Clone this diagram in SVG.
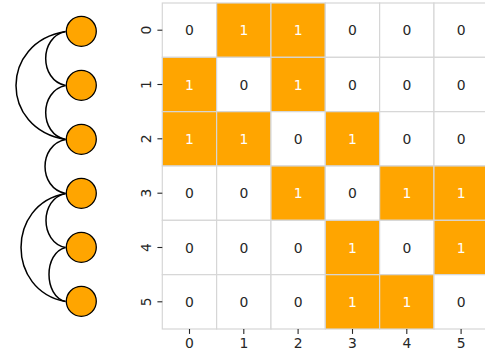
<svg xmlns="http://www.w3.org/2000/svg" width="485" height="354" viewBox="0 0 485 354">
<style>
.node{fill:#FFA500;stroke:#000;stroke-width:1.3}
.edge{fill:none;stroke:#000;stroke-width:1.5}
.c0{fill:#fff;stroke:#d6d6d6;stroke-width:1.2}
.c1{fill:#FFA500;stroke:#d6d6d6;stroke-width:1.2}
.t0{fill:#262626;font-family:"DejaVu Sans",sans-serif;font-size:13.9px;text-anchor:middle}
.t1{fill:#fff;font-family:"DejaVu Sans",sans-serif;font-size:13.9px;text-anchor:middle}
.tick{stroke:#262626;stroke-width:1.1}
.lab{fill:#262626;font-family:"DejaVu Sans",sans-serif;font-size:13.9px;text-anchor:middle}
</style>
<rect width="485" height="354" fill="#fff"/>
<g id="connectors">
<path class="edge" d="M65.5,31.5 C39.1,36.9 39.1,80.1 65.5,85.5"/>
<path class="edge" d="M65.5,31.5 C-0.5,42.3 -0.5,128.7 65.5,139.5"/>
<path class="edge" d="M65.5,85.5 C39.1,90.9 39.1,134.1 65.5,139.5"/>
<path class="edge" d="M65.5,139.5 C38.2,144.9 38.2,188.1 65.5,193.5"/>
<path class="edge" d="M65.5,193.5 C39.5,198.9 39.5,242.1 65.5,247.5"/>
<path class="edge" d="M65.5,193.5 C6.2,204.3 6.2,290.7 65.5,301.5"/>
<path class="edge" d="M65.5,247.5 C43.5,252.9 43.5,296.1 65.5,301.5"/>
</g>
<g id="n0"><circle class="node" cx="81.3" cy="31.3" r="15"/></g>
<g id="n1"><circle class="node" cx="81.3" cy="85.3" r="15"/></g>
<g id="n2"><circle class="node" cx="81.3" cy="139.3" r="15"/></g>
<g id="n3"><circle class="node" cx="81.3" cy="193.3" r="15"/></g>
<g id="n4"><circle class="node" cx="81.3" cy="247.3" r="15"/></g>
<g id="n5"><circle class="node" cx="81.3" cy="301.3" r="15"/></g>
<g id="matrix">
<rect class="c0" x="162.3" y="3" width="54.33" height="54.33"/>
<rect class="c1" x="216.63" y="3" width="54.33" height="54.33"/>
<rect class="c1" x="270.97" y="3" width="54.33" height="54.33"/>
<rect class="c0" x="325.3" y="3" width="54.33" height="54.33"/>
<rect class="c0" x="379.63" y="3" width="54.33" height="54.33"/>
<rect class="c0" x="433.97" y="3" width="54.33" height="54.33"/>
<rect class="c1" x="162.3" y="57.33" width="54.33" height="54.33"/>
<rect class="c0" x="216.63" y="57.33" width="54.33" height="54.33"/>
<rect class="c1" x="270.97" y="57.33" width="54.33" height="54.33"/>
<rect class="c0" x="325.3" y="57.33" width="54.33" height="54.33"/>
<rect class="c0" x="379.63" y="57.33" width="54.33" height="54.33"/>
<rect class="c0" x="433.97" y="57.33" width="54.33" height="54.33"/>
<rect class="c1" x="162.3" y="111.67" width="54.33" height="54.33"/>
<rect class="c1" x="216.63" y="111.67" width="54.33" height="54.33"/>
<rect class="c0" x="270.97" y="111.67" width="54.33" height="54.33"/>
<rect class="c1" x="325.3" y="111.67" width="54.33" height="54.33"/>
<rect class="c0" x="379.63" y="111.67" width="54.33" height="54.33"/>
<rect class="c0" x="433.97" y="111.67" width="54.33" height="54.33"/>
<rect class="c0" x="162.3" y="166" width="54.33" height="54.33"/>
<rect class="c0" x="216.63" y="166" width="54.33" height="54.33"/>
<rect class="c1" x="270.97" y="166" width="54.33" height="54.33"/>
<rect class="c0" x="325.3" y="166" width="54.33" height="54.33"/>
<rect class="c1" x="379.63" y="166" width="54.33" height="54.33"/>
<rect class="c1" x="433.97" y="166" width="54.33" height="54.33"/>
<rect class="c0" x="162.3" y="220.33" width="54.33" height="54.33"/>
<rect class="c0" x="216.63" y="220.33" width="54.33" height="54.33"/>
<rect class="c0" x="270.97" y="220.33" width="54.33" height="54.33"/>
<rect class="c1" x="325.3" y="220.33" width="54.33" height="54.33"/>
<rect class="c0" x="379.63" y="220.33" width="54.33" height="54.33"/>
<rect class="c1" x="433.97" y="220.33" width="54.33" height="54.33"/>
<rect class="c0" x="162.3" y="274.67" width="54.33" height="54.33"/>
<rect class="c0" x="216.63" y="274.67" width="54.33" height="54.33"/>
<rect class="c0" x="270.97" y="274.67" width="54.33" height="54.33"/>
<rect class="c1" x="325.3" y="274.67" width="54.33" height="54.33"/>
<rect class="c1" x="379.63" y="274.67" width="54.33" height="54.33"/>
<rect class="c0" x="433.97" y="274.67" width="54.33" height="54.33"/>
<text class="t0" x="189.5" y="35.3">0</text>
<text class="t1" x="243.8" y="35.3">1</text>
<text class="t1" x="298.1" y="35.3">1</text>
<text class="t0" x="352.5" y="35.3">0</text>
<text class="t0" x="406.8" y="35.3">0</text>
<text class="t0" x="461.1" y="35.3">0</text>
<text class="t1" x="189.5" y="89.6">1</text>
<text class="t0" x="243.8" y="89.6">0</text>
<text class="t1" x="298.1" y="89.6">1</text>
<text class="t0" x="352.5" y="89.6">0</text>
<text class="t0" x="406.8" y="89.6">0</text>
<text class="t0" x="461.1" y="89.6">0</text>
<text class="t1" x="189.5" y="144">1</text>
<text class="t1" x="243.8" y="144">1</text>
<text class="t0" x="298.1" y="144">0</text>
<text class="t1" x="352.5" y="144">1</text>
<text class="t0" x="406.8" y="144">0</text>
<text class="t0" x="461.1" y="144">0</text>
<text class="t0" x="189.5" y="198.3">0</text>
<text class="t0" x="243.8" y="198.3">0</text>
<text class="t1" x="298.1" y="198.3">1</text>
<text class="t0" x="352.5" y="198.3">0</text>
<text class="t1" x="406.8" y="198.3">1</text>
<text class="t1" x="461.1" y="198.3">1</text>
<text class="t0" x="189.5" y="252.6">0</text>
<text class="t0" x="243.8" y="252.6">0</text>
<text class="t0" x="298.1" y="252.6">0</text>
<text class="t1" x="352.5" y="252.6">1</text>
<text class="t0" x="406.8" y="252.6">0</text>
<text class="t1" x="461.1" y="252.6">1</text>
<text class="t0" x="189.5" y="307">0</text>
<text class="t0" x="243.8" y="307">0</text>
<text class="t0" x="298.1" y="307">0</text>
<text class="t1" x="352.5" y="307">1</text>
<text class="t1" x="406.8" y="307">1</text>
<text class="t0" x="461.1" y="307">0</text>
</g>
<g id="axes">
<line class="tick" x1="157.4" y1="30.2" x2="162.3" y2="30.2"/>
<line class="tick" x1="157.4" y1="84.5" x2="162.3" y2="84.5"/>
<line class="tick" x1="157.4" y1="138.8" x2="162.3" y2="138.8"/>
<line class="tick" x1="157.4" y1="193.2" x2="162.3" y2="193.2"/>
<line class="tick" x1="157.4" y1="247.5" x2="162.3" y2="247.5"/>
<line class="tick" x1="157.4" y1="301.8" x2="162.3" y2="301.8"/>
<text class="lab" transform="translate(150.7,30.2) rotate(-90)">0</text>
<text class="lab" transform="translate(150.7,84.5) rotate(-90)">1</text>
<text class="lab" transform="translate(150.7,138.8) rotate(-90)">2</text>
<text class="lab" transform="translate(150.7,193.2) rotate(-90)">3</text>
<text class="lab" transform="translate(150.7,247.5) rotate(-90)">4</text>
<text class="lab" transform="translate(150.7,301.8) rotate(-90)">5</text>
<line class="tick" x1="189.5" y1="329" x2="189.5" y2="333.9"/>
<line class="tick" x1="243.8" y1="329" x2="243.8" y2="333.9"/>
<line class="tick" x1="298.1" y1="329" x2="298.1" y2="333.9"/>
<line class="tick" x1="352.5" y1="329" x2="352.5" y2="333.9"/>
<line class="tick" x1="406.8" y1="329" x2="406.8" y2="333.9"/>
<line class="tick" x1="461.1" y1="329" x2="461.1" y2="333.9"/>
<text class="lab" x="189.5" y="348.3">0</text>
<text class="lab" x="243.8" y="348.3">1</text>
<text class="lab" x="298.1" y="348.3">2</text>
<text class="lab" x="352.5" y="348.3">3</text>
<text class="lab" x="406.8" y="348.3">4</text>
<text class="lab" x="461.1" y="348.3">5</text>
</g>
</svg>
